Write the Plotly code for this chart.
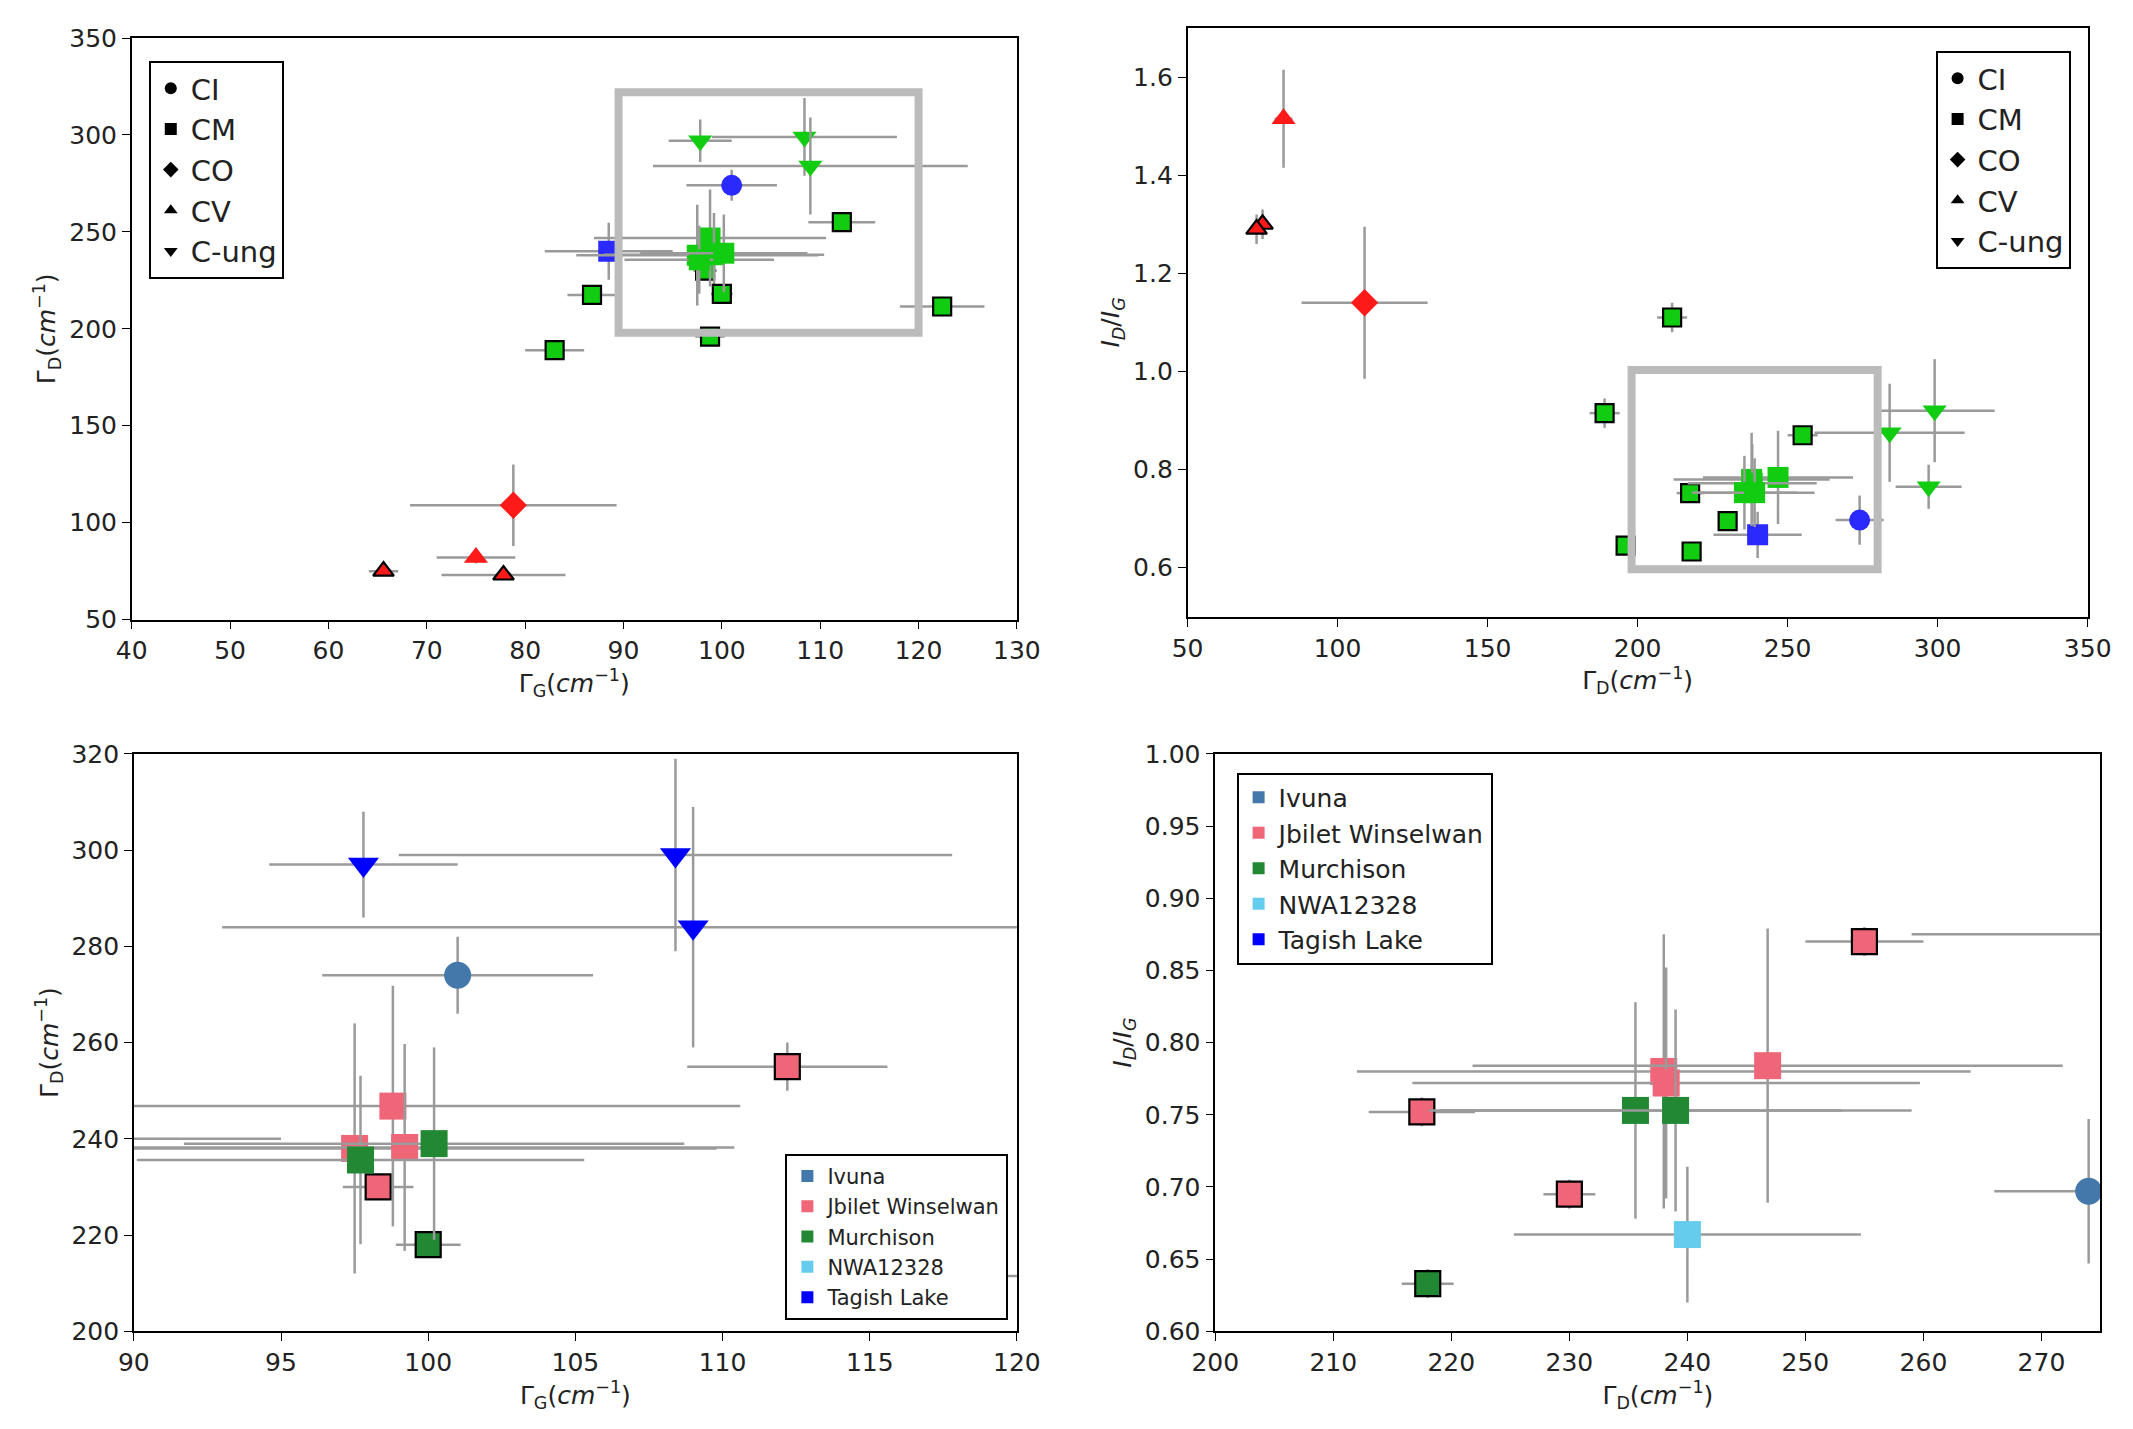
import plotly.graph_objects as go

# per-sample data
sample = ["CV1","CV2","CV3","CO1","Ivuna","NWA12328","Tagish1","Tagish2","Tagish3",
          "Jb1","Jb2","Jb3","Jb4","Jb5","Jb6","Mu1","Mu2","Mu3","X1","X2","X3"]
cls    = ["CV","CV","CV","CO","CI","CM","C-ung","C-ung","C-ung",
          "CM","CM","CM","CM","CM","CM","CM","CM","CM","CM","CM","CM"]
group  = ["CV","CV","CV","CO","Ivuna","NWA12328","Tagish Lake","Tagish Lake","Tagish Lake",
          "Jbilet Winselwan","Jbilet Winselwan","Jbilet Winselwan","Jbilet Winselwan","Jbilet Winselwan","Jbilet Winselwan",
          "Murchison","Murchison","Murchison","Murchison","Jbilet Winselwan","Murchison"]
edge   = [1,0,1,0,0,0,0,0,0, 1,1,1,0,0,0, 1,0,0, 1,1,1]
gG     = [65.6,75.0,77.8,78.8,101.0,88.5,97.8,108.4,109.0, 98.3,112.2,86.8,97.5,98.8,99.2, 100.0,97.7,100.2, 83.0,98.8,122.4]
gG_err = [1.5,4.0,6.3,10.5,4.6,6.5,3.2,9.4,16.0, 1.2,3.4,2.5,12.3,11.8,11.2, 1.1,7.6,8.5, 3.0,1.5,4.3]
gD     = [75,82,73,109,274,240,297,299,284, 230,255,217.5,238,246.8,238.2, 218,235.6,239, 189,196,211.5]
gD_err = [2,3,2,21,8,14.7,11,20,25, 2.2,5,4.5,26,25,21.5, 2.2,17.5,20, 5,3,5]
ratio  = [1.30,1.515,1.29,1.14,0.697,0.667,0.765,0.92,0.875, 0.695,0.87,0.752,0.78,0.784,0.772, 0.633,0.753,0.753, 0.915,0.645,1.11]
r_err  = [0.03,0.10,0.03,0.155,0.05,0.047,0.045,0.105,0.1, 0.01,0.01,0.01,0.095,0.095,0.08, 0.01,0.075,0.07, 0.03,0.01,0.03]

cls_symbol = {"CI":"circle","CM":"square","CO":"diamond","CV":"triangle-up","C-ung":"triangle-down"}
cls_color = {"CV":"#FF1A1A","CO":"#FF1A1A","Ivuna":"#2A2AFF","NWA12328":"#2A2AFF","Tagish Lake":"#11CC11",
             "Jbilet Winselwan":"#11CC11","Murchison":"#11CC11"}
grp_color = {"Ivuna":"#4477AA","Jbilet Winselwan":"#EE6677","Murchison":"#228833","NWA12328":"#66CCEE","Tagish Lake":"#0000FF"}
legend_cls = ["CI","CM","CO","CV","C-ung"]
legend_grp = ["Ivuna","Jbilet Winselwan","Murchison","NWA12328","Tagish Lake"]

fig = go.Figure()
ERR = "#9a9a9a"

def add_points(xa, ya, xs, xe, ys, ye, colors, big):
    for i in range(len(sample)):
        c = colors(i)
        if c is None:
            continue
        sym = cls_symbol[cls[i]]
        if big:
            size = 27 if not edge[i] else 25
        else:
            size = 21 if not edge[i] else 18
        fig.add_trace(go.Scatter(
            x=[xs[i]], y=[ys[i]], mode="markers", xaxis=xa, yaxis=ya, showlegend=False,
            error_x=dict(type="data", array=[xe[i]], color=ERR, thickness=2.5, width=0),
            error_y=dict(type="data", array=[ye[i]], color=ERR, thickness=2.5, width=0),
            marker=dict(symbol=sym, size=size, color=c,
                        line=dict(color="black", width=2.2 if edge[i] else 0))))

add_points("x", "y", gG, gG_err, gD, gD_err, lambda i: cls_color[group[i]], False)
add_points("x2", "y2", gD, gD_err, ratio, r_err, lambda i: cls_color[group[i]], False)
add_points("x3", "y3", gG, gG_err, gD, gD_err, lambda i: grp_color.get(group[i]), True)
add_points("x4", "y4", gD, gD_err, ratio, r_err, lambda i: grp_color.get(group[i]), True)

for c in legend_cls:
    for lg, xa, ya in [("legend", "x", "y"), ("legend2", "x2", "y2")]:
        fig.add_trace(go.Scatter(x=[None], y=[None], mode="markers", name=c, legend=lg, xaxis=xa, yaxis=ya,
                                 marker=dict(symbol=cls_symbol[c], size=22, color="black")))
for g in legend_grp:
    for lg, xa, ya in [("legend3", "x3", "y3"), ("legend4", "x4", "y4")]:
        fig.add_trace(go.Scatter(x=[None], y=[None], mode="markers", name=g, legend=lg, xaxis=xa, yaxis=ya,
                                 marker=dict(symbol="square", size=16, color=grp_color[g])))

fig.add_shape(type="rect", xref="x", yref="y", x0=89.5, x1=120, y0=198, y1=322, line=dict(color="#BBBBBB", width=8))
fig.add_shape(type="rect", xref="x2", yref="y2", x0=198, x1=280, y0=0.597, y1=1.003, line=dict(color="#BBBBBB", width=8))

ax = dict(showgrid=False, zeroline=False, showline=True, linecolor="black", linewidth=1.5, mirror=True,
          ticks="outside", ticklen=8, tickcolor="black", tickfont=dict(size=25, color="#222"), automargin=False)
gGt = "Γ<sub>G</sub>(<i>cm</i><sup>−1</sup>)"
gDt = "Γ<sub>D</sub>(<i>cm</i><sup>−1</sup>)"
rt = "<i>I<sub>D</sub></i>/<i>I<sub>G</sub></i>"
tf = dict(size=25, color="#222")

def T(t):
    return dict(text=t, font=tf, standoff=6)

fig.update_layout(
    width=2133, height=1429, margin=dict(l=0, r=0, t=0, b=0),
    paper_bgcolor="white", plot_bgcolor="white",
    font=dict(family="DejaVu Sans", color="#222"),
    xaxis=dict(ax, domain=[0.058, 0.473], range=[40, 130], dtick=10, title=T(gGt), anchor="y"),
    yaxis=dict(ax, domain=[0.572, 0.979], range=[50, 350], dtick=50, title=T(gDt), anchor="x"),
    xaxis2=dict(ax, domain=[0.553, 0.975], range=[50, 350], dtick=50, title=T(gDt), anchor="y2"),
    yaxis2=dict(ax, domain=[0.574, 0.986], range=[0.5, 1.7], tickvals=[0.6, 0.8, 1.0, 1.2, 1.4, 1.6],
                ticktext=["0.6", "0.8", "1.0", "1.2", "1.4", "1.6"], title=T(rt), anchor="x2"),
    xaxis3=dict(ax, domain=[0.059, 0.473], range=[90, 120], dtick=5, title=T(gGt), anchor="y3"),
    yaxis3=dict(ax, domain=[0.074, 0.478], range=[200, 320], dtick=20, title=T(gDt), anchor="x3"),
    xaxis4=dict(ax, domain=[0.566, 0.981], range=[200, 275], dtick=10, title=T(gDt), anchor="y4"),
    yaxis4=dict(ax, domain=[0.074, 0.478], range=[0.6, 1.0], dtick=0.05, tickformat=".2f", title=T(rt), anchor="x4"),
    legend=dict(x=0.066, y=0.963, xanchor="left", yanchor="top", bgcolor="white", bordercolor="black", borderwidth=2,
                font=dict(size=29), itemsizing="constant"),
    legend2=dict(x=0.967, y=0.970, xanchor="right", yanchor="top", bgcolor="white", bordercolor="black", borderwidth=2,
                 font=dict(size=29), itemsizing="constant"),
    legend3=dict(x=0.469, y=0.082, xanchor="right", yanchor="bottom", bgcolor="white", bordercolor="black", borderwidth=2,
                 font=dict(size=21), itemsizing="constant"),
    legend4=dict(x=0.576, y=0.465, xanchor="left", yanchor="top", bgcolor="white", bordercolor="black", borderwidth=2,
                 font=dict(size=25), itemsizing="constant"),
)
fig.write_html("out.html")
